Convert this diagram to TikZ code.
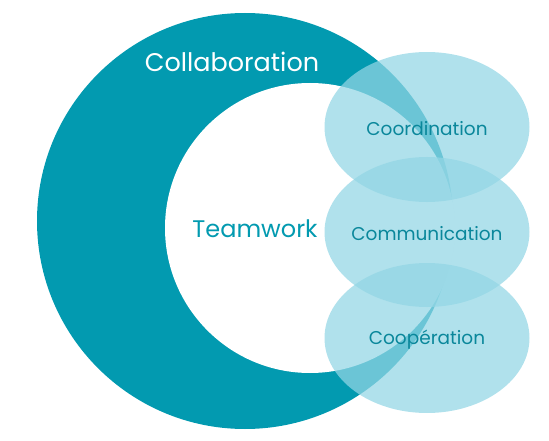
\documentclass[tikz,border=0pt]{standalone}
\usepackage{fontspec}
\setmainfont{Poppins}
\usetikzlibrary{shapes.geometric}
\definecolor{twteal}{HTML}{029AB0}
\definecolor{twlight}{HTML}{93D6E5}
\definecolor{twtext}{HTML}{0A879B}

\begin{document}
\begin{tikzpicture}[
  x=1pt, y=-1pt,
  ring/.style={circle, inner sep=0pt, minimum size=#1},
  bubble/.style={ellipse, inner sep=0pt, minimum width=205pt, minimum height=150pt,
                 fill=twlight, fill opacity=0.73},
  bubtext/.style={font=\fontsize{18.5}{22}\selectfont, text=twtext, yshift=-2pt},
]
\useasboundingbox (0,0) rectangle (549,441);

% Anneau de collaboration et disque intérieur
\node[ring=416pt, fill=twteal] (outer) at (245,221) {};
\node[ring=290pt, fill=white]  (inner) at (310,228) {};

% Titres
\node[font=\fontsize{25.5}{28}\selectfont, text=white] (collab) at (232,62) {Collaboration};
\node[font=\fontsize{24}{27}\selectfont, text=twteal] (team) at (255,229) {Teamwork};

% Trois ellipses semi-transparentes
\node[bubble] (coord) at (427,127) {};
\node[bubble] (comm)  at (427,232) {};
\node[bubble] (coop)  at (427,338) {};

\node[bubtext] (coordlbl) at (coord) {Coordination};
\node[bubtext] (commlbl)  at (comm)  {Communication};
\node[bubtext] (cooplbl)  at (coop)  {Coopération};

\end{tikzpicture}
\end{document}
